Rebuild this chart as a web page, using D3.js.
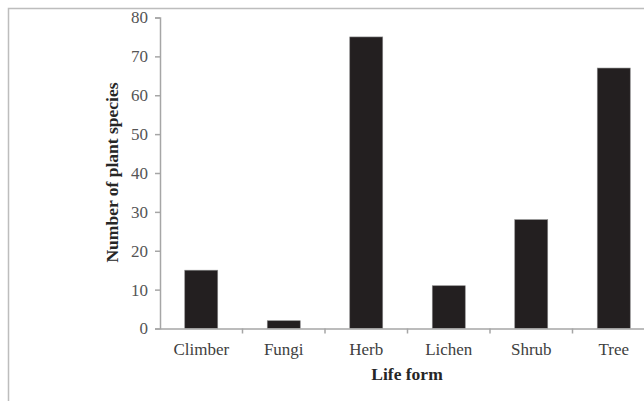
<!DOCTYPE html>
<html>
<head>
<meta charset="utf-8">
<script src="https://cdn.jsdelivr.net/npm/d3@7"></script>
<style>
  body { margin: 0; background: #fff; }
  svg { display: block; }
</style>
</head>
<body>
<svg></svg>
<script>
const width = 644;
const height = 401;

// data
const lifeForms = ["Climber", "Fungi", "Herb", "Lichen", "Shrub", "Tree"];
const speciesCount = [15, 2, 75, 11, 28, 67];
const yTicks = [0, 10, 20, 30, 40, 50, 60, 70, 80];

const plotLeft = 160, plotRight = 655, plotTop = 17.5, plotBottom = 328.5;
const serif = "Liberation Serif, Times New Roman, serif";

let svg = d3.select("svg").attr("width", width).attr("height", height);

// outer frame (cut off on the right and bottom)
svg.append("path")
    .attr("d", "M8.5," + height + "V8.5H" + width)
    .attr("fill", "none")
    .attr("stroke", "#bdbdbd")
    .attr("stroke-width", 1.5);

let xScale = d3.scaleBand().domain(lifeForms).range([plotLeft, plotRight]);
let yScale = d3.scaleLinear().domain([0, 80]).range([plotBottom, plotTop]);

// bars
svg.append("g").selectAll("rect")
    .data(lifeForms)
    .enter().append("rect")
    .attr("x", (d) => xScale(d) + xScale.bandwidth() * 0.3)
    .attr("width", xScale.bandwidth() * 0.4)
    .attr("y", (d, i) => yScale(speciesCount[i]))
    .attr("height", (d, i) => plotBottom - yScale(speciesCount[i]))
    .attr("fill", "#231f20")
    .attr("stroke", "#8a8a8a")
    .attr("stroke-width", 0.6);

// y axis
let yAxis = d3.axisLeft(yScale).tickValues(yTicks).tickSize(5).tickPadding(7);
let gy = svg.append("g").attr("transform", "translate(" + plotLeft + ",0)").call(yAxis);
gy.select(".domain").attr("stroke", "#a6a6a6").attr("stroke-width", 1.5);
gy.selectAll(".tick line").attr("stroke", "#a6a6a6").attr("stroke-width", 1.5);
gy.selectAll(".tick text")
    .attr("font-family", serif)
    .attr("font-size", 17)
    .attr("fill", "#555555");

// x axis: ticks sit at the category boundaries
let xAxis = d3.axisBottom(xScale).tickSize(0).tickPadding(14.5);
let gx = svg.append("g").attr("transform", "translate(0," + plotBottom + ")").call(xAxis);
gx.select(".domain").attr("stroke", "#a6a6a6").attr("stroke-width", 1.5);
gx.selectAll(".tick text")
    .attr("font-family", serif)
    .attr("font-size", 17)
    .attr("fill", "#404040");
gx.selectAll(".sep")
    .data(lifeForms.slice(1))
    .enter().append("line")
    .attr("x1", (d) => xScale(d)).attr("x2", (d) => xScale(d))
    .attr("y1", 0).attr("y2", 5)
    .attr("stroke", "#a6a6a6").attr("stroke-width", 1.5);

// axis titles
svg.append("text")
    .attr("x", 407).attr("y", 380)
    .attr("text-anchor", "middle")
    .attr("font-family", serif)
    .attr("font-weight", "bold").attr("font-size", 17.5)
    .attr("fill", "#262626")
    .text("Life form");

svg.append("text")
    .attr("transform", "translate(118,172.5) rotate(-90)")
    .attr("text-anchor", "middle")
    .attr("font-family", serif)
    .attr("font-weight", "bold").attr("font-size", 17.5)
    .attr("fill", "#262626")
    .text("Number of plant species");
</script>
</body>
</html>
